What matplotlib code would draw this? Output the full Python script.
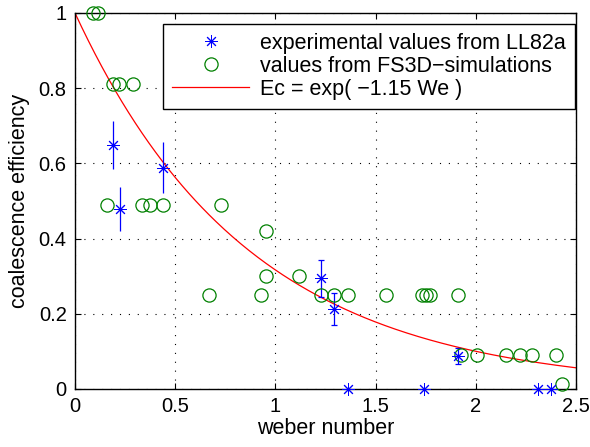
import numpy as np
import matplotlib
matplotlib.use("Agg")
import matplotlib.pyplot as plt

plt.rcParams['font.family'] = ['Liberation Sans', 'DejaVu Sans']

# experimental values (LL82a) with error bars
exp_we_nocap = [0.19, 0.224, 0.44]
exp_ec_nocap = [0.65, 0.478, 0.589]
exp_err_nocap = [0.064, 0.058, 0.067]

exp_we_cap = [1.228, 1.29, 1.912]
exp_ec_cap = [0.294, 0.213, 0.088]
exp_err_cap = [0.05, 0.042, 0.022]

exp_we_zero = [1.36, 1.74, 2.31, 2.374]
exp_ec_zero = [0.0, 0.0, 0.0, 0.0]

# FS3D simulations
sim_we = [0.09, 0.115,
          0.19, 0.22, 0.29,
          0.158, 0.332, 0.373, 0.44, 0.73,
          0.955, 0.955, 1.12,
          0.667, 0.926, 1.228, 1.29, 1.36, 1.55, 1.73, 1.75, 1.77, 1.91,
          1.926, 2.005, 2.15, 2.22, 2.28, 2.40,
          2.43]
sim_ec = [1.0, 1.0,
          0.81, 0.81, 0.81,
          0.49, 0.49, 0.49, 0.49, 0.49,
          0.42, 0.30, 0.30,
          0.25, 0.25, 0.25, 0.25, 0.25, 0.25, 0.25, 0.25, 0.25, 0.25,
          0.09, 0.09, 0.09, 0.09, 0.09, 0.09,
          0.012]

fit_coef = 1.15

fig = plt.figure(figsize=(5.9, 4.47), dpi=100)
ax = fig.add_axes([75/590, 1-389/447, (576-75)/590, (389-13)/447])

blue = '#0000ff'
green = '#008000'
ast = (8, 2, 0)

ax.errorbar(exp_we_nocap, exp_ec_nocap, yerr=exp_err_nocap, fmt='none',
            ecolor=blue, elinewidth=0.9, capsize=0, zorder=3)
ax.errorbar(exp_we_cap, exp_ec_cap, yerr=exp_err_cap, fmt='none',
            ecolor=blue, elinewidth=0.9, capsize=2.5, capthick=0.9, zorder=3)
all_we = exp_we_nocap + exp_we_cap + exp_we_zero
all_ec = exp_ec_nocap + exp_ec_cap + exp_ec_zero
ax.plot(all_we, all_ec, linestyle='none', marker=ast, markersize=9,
        markeredgewidth=0.7, color=blue, clip_on=False, zorder=4,
        label='experimental values from LL82a')
ax.plot(sim_we, sim_ec, linestyle='none', marker='o', markersize=9.5,
        markerfacecolor='none', markeredgecolor=green, markeredgewidth=0.9,
        clip_on=False, zorder=3, label='values from FS3D\u2212simulations')
xs = np.linspace(0, 2.5, 300)
ax.plot(xs, np.exp(-fit_coef * xs), color='red', linewidth=0.9,
        label='Ec = exp( \u22121.15 We )', zorder=2)

ax.set_xlim(0, 2.5)
ax.set_ylim(0, 1)
ax.set_xticks([0, 0.5, 1, 1.5, 2, 2.5])
ax.set_xticklabels(['0', '0.5', '1', '1.5', '2', '2.5'])
ax.set_yticks([0, 0.2, 0.4, 0.6, 0.8, 1])
ax.set_yticklabels(['0', '0.2', '0.4', '0.6', '0.8', '1'])
ax.tick_params(direction='in', length=4, labelsize=14.5, top=True, right=True,
               width=0.8, pad=6)
ax.grid(True, color='black', linestyle=(0, (1, 7)), linewidth=0.8)
for s in ax.spines.values():
    s.set_linewidth(1)
ax.set_xlabel('weber number', fontsize=15.5, labelpad=1)
ax.set_ylabel('coalescence efficiency', fontsize=15.5, labelpad=6)

leg = ax.legend(loc='upper right', bbox_to_anchor=(1 - 1.5/501, 1 - 11/376),
                fontsize=15.5, frameon=True, fancybox=False,
                edgecolor='black', framealpha=1, borderpad=0.4, labelspacing=0.1,
                handlelength=3.6, handletextpad=0.5, borderaxespad=0, numpoints=1)
leg.get_frame().set_linewidth(1)

fig.savefig('out.png', dpi=100)
